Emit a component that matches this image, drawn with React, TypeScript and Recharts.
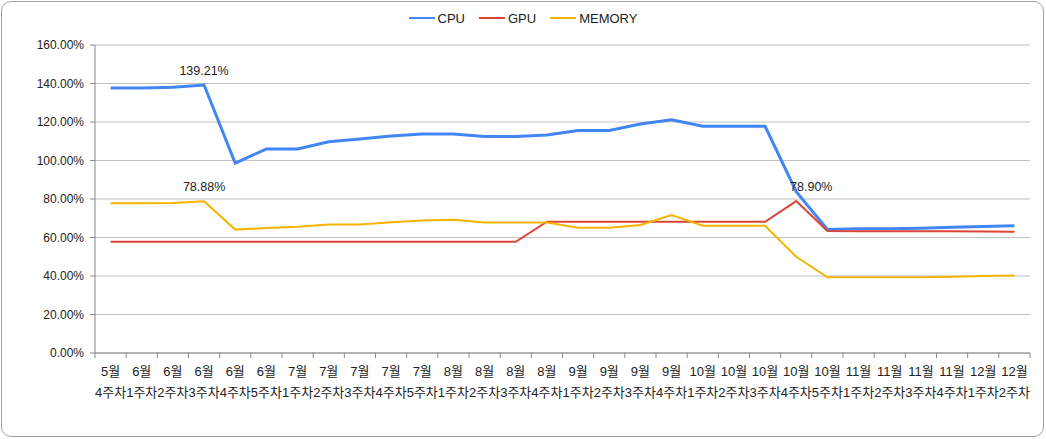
import { CartesianGrid, LabelList, Legend, Line, LineChart, XAxis, YAxis } from 'recharts';

const CATEGORIES = [
    '5월 4주차',
    '6월 1주차', '6월 2주차', '6월 3주차', '6월 4주차', '6월 5주차',
    '7월 1주차', '7월 2주차', '7월 3주차', '7월 4주차', '7월 5주차',
    '8월 1주차', '8월 2주차', '8월 3주차', '8월 4주차',
    '9월 1주차', '9월 2주차', '9월 3주차', '9월 4주차',
    '10월 1주차', '10월 2주차', '10월 3주차', '10월 4주차', '10월 5주차',
    '11월 1주차', '11월 2주차', '11월 3주차', '11월 4주차',
    '12월 1주차', '12월 2주차',
];

const CPU = [
    137.6, 137.6, 138.0, 139.21, 98.6, 106.0, 106.0, 109.7, 111.2, 112.7,
    113.8, 113.8, 112.5, 112.5, 113.2, 115.6, 115.6, 119.0, 121.2, 117.8,
    117.8, 117.8, 83.8, 64.2, 64.5, 64.6, 64.8, 65.3, 65.7, 66.1,
];

const GPU = [
    57.8, 57.8, 57.8, 57.8, 57.8, 57.8, 57.8, 57.8, 57.8, 57.8,
    57.8, 57.8, 57.8, 57.8, 68.2, 68.2, 68.2, 68.2, 68.2, 68.2,
    68.2, 68.2, 78.9, 63.4, 63.3, 63.3, 63.2, 63.2, 63.1, 63.0,
];

const MEMORY = [
    77.8, 77.8, 77.9, 78.88, 64.1, 64.9, 65.6, 66.7, 66.7, 67.9,
    68.8, 69.2, 67.8, 67.8, 67.8, 65.1, 65.1, 66.5, 71.7, 66.1,
    66.1, 66.1, 50.0, 39.3, 39.3, 39.3, 39.3, 39.6, 40.0, 40.2,
];

const Y_TICKS = [0, 20, 40, 60, 80, 100, 120, 140, 160];

// which point of each series carries a value label
const LABEL_INDEX = { cpu: 3, gpu: 22, memory: 3 };

const COLORS = {
    cpu: '#4285F4',
    gpu: '#DB4437',
    memory: '#F4B400',
};

const FONT = '"Liberation Sans", Arial, "Noto Sans CJK KR", sans-serif';
const STEP = (1030 - 95) / CATEGORIES.length;

const data = CATEGORIES.map((name, i) => ({
    name,
    cpu: CPU[i],
    gpu: GPU[i],
    memory: MEMORY[i],
}));

const formatPercent = (v: number) => `${v.toFixed(2)}%`;

function XTick({ x, y, payload, index }: { x?: number; y?: number; payload?: { value: string }; index?: number }) {
    const [month, week] = (payload?.value ?? '').split(' ');
    const px = x ?? 0;
    const py = y ?? 0;
    return (
        <g>
            {index === 0 && <line x1={px - STEP / 2} x2={px - STEP / 2} y1={py} y2={py + 5} stroke="#888" />}
            <line x1={px + STEP / 2} x2={px + STEP / 2} y1={py} y2={py + 5} stroke="#888" />
            <text x={px} y={py + 23} textAnchor="middle" fontSize={13} fill="#222" fontFamily={FONT}>
                {month}
            </text>
            <text x={px} y={py + 44} textAnchor="middle" fontSize={13} fill="#222" fontFamily={FONT}>
                {week}
            </text>
        </g>
    );
}

function pointLabel(target: number, dx = 0) {
    return (props: any) => {
        if (props.index !== target) {
            return null;
        }
        return (
            <text
                x={Number(props.x) + dx}
                y={Number(props.y) - 10}
                textAnchor="middle"
                fontSize={12.5}
                fill="#222"
                fontFamily={FONT}
            >
                {formatPercent(Number(props.value))}
            </text>
        );
    };
}

function ChartLegend() {
    const items = [
        { key: 'cpu', label: 'CPU' },
        { key: 'gpu', label: 'GPU' },
        { key: 'memory', label: 'MEMORY' },
    ] as const;
    return (
        <div style={{ display: 'flex', justifyContent: 'center', alignItems: 'center', gap: 14, height: 30, fontFamily: FONT, fontSize: 13, color: '#222' }}>
            {items.map((item) => (
                <span key={item.key} style={{ display: 'inline-flex', alignItems: 'center' }}>
                    <span style={{ display: 'inline-block', width: 26, height: 2.5, background: COLORS[item.key], marginRight: 3 }} />
                    {item.label}
                </span>
            ))}
        </div>
    );
}

export default function App() {
    return (
        <div style={{ position: 'absolute', left: 0, top: 0, width: 1046, height: 439, background: '#fff' }}>
            <div
                style={{
                    position: 'absolute',
                    left: 1,
                    top: 1,
                    width: 1041,
                    height: 434,
                    border: '1px solid #a0a0a0',
                    borderRadius: 10,
                }}
            />
            <LineChart width={1046} height={439} data={data} margin={{ top: 15, right: 16, bottom: 36, left: 0 }}>
                <Legend verticalAlign="top" align="center" wrapperStyle={{ top: 3, left: 0, width: 1046 }} content={<ChartLegend />} />
                <CartesianGrid vertical={false} stroke="#c0c0c0" />
                <XAxis
                    dataKey="name"
                    interval={0}
                    padding={{ left: STEP / 2, right: STEP / 2 }}
                    tickLine={false}
                    tickSize={0}
                    tickMargin={0}
                    height={50}
                    axisLine={{ stroke: '#888' }}
                    tick={<XTick />}
                />
                <YAxis
                    width={95}
                    domain={[0, 160]}
                    ticks={Y_TICKS}
                    interval={0}
                    tickFormatter={formatPercent}
                    axisLine={{ stroke: '#888' }}
                    tickLine={{ stroke: '#888' }}
                    tickSize={5}
                    tickMargin={6}
                    tick={{ fontSize: 12, fill: '#222', fontFamily: FONT }}
                />
                <Line type="linear" dataKey="cpu" name="CPU" stroke={COLORS.cpu} strokeWidth={3} dot={false} isAnimationActive={false}>
                    <LabelList dataKey="cpu" content={pointLabel(LABEL_INDEX.cpu)} />
                </Line>
                <Line type="linear" dataKey="gpu" name="GPU" stroke={COLORS.gpu} strokeWidth={2} dot={false} isAnimationActive={false}>
                    <LabelList dataKey="gpu" content={pointLabel(LABEL_INDEX.gpu, 15)} />
                </Line>
                <Line type="linear" dataKey="memory" name="MEMORY" stroke={COLORS.memory} strokeWidth={2} dot={false} isAnimationActive={false}>
                    <LabelList dataKey="memory" content={pointLabel(LABEL_INDEX.memory)} />
                </Line>
            </LineChart>
        </div>
    );
}
